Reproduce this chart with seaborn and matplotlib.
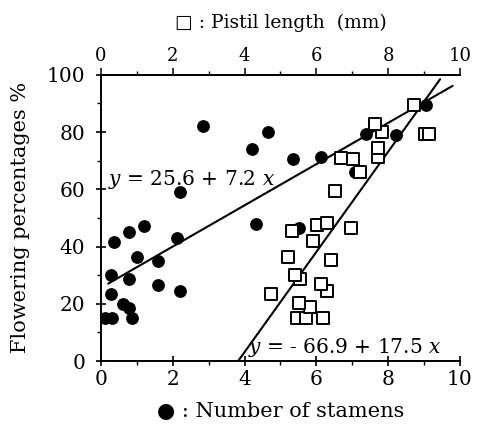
import matplotlib
matplotlib.use("Agg")
import matplotlib.pyplot as plt
import seaborn as sns
import numpy as np
import pandas as pd

# filled circles: number of stamens vs flowering %
stamen_x = [0.11, 0.30, 0.86, 0.79, 0.60, 0.27, 2.19, 1.60, 0.79, 0.27,
            1.60, 1.00, 0.35, 2.12, 0.79, 1.19, 4.33, 2.19, 5.34, 6.13,
            4.22, 4.64, 2.85, 7.39, 8.22, 9.05, 5.53, 7.09]
stamen_y = [15.1, 15.1, 15.1, 18.4, 19.9, 23.3, 24.6, 26.6, 28.7, 30.1,
            35.1, 36.5, 41.7, 42.9, 45.2, 47.3, 47.9, 59.2, 70.6, 71.2,
            74.0, 80.0, 82.3, 79.5, 79.1, 89.3, 46.5, 66.0]

# open squares: pistil length (mm) vs flowering %
pistil_x = [4.75, 5.46, 5.71, 6.18, 5.82, 5.53, 6.30, 6.12, 5.54, 5.40,
            5.21, 6.40, 5.90, 5.33, 6.02, 6.31, 6.98, 6.52, 7.21, 6.69,
            7.01, 7.71, 7.71, 7.82, 7.63, 8.71, 9.04, 9.14]
pistil_y = [23.3, 15.2, 15.2, 15.2, 18.7, 20.2, 24.5, 27.0, 28.8, 30.2,
            36.5, 35.2, 42.1, 45.3, 47.7, 48.1, 46.6, 59.5, 65.9, 71.1,
            70.6, 71.3, 74.4, 80.1, 82.7, 89.3, 79.4, 79.5]

# regression lines (intercept, slope, x range)
stamen_fit = (25.6, 7.2, 0.2, 9.8)
pistil_fit = (-66.9, 17.5, 3.82, 9.45)

sns.set_theme(style="ticks")
plt.rcParams["font.family"] = ["DejaVu Serif", "DejaVu Sans"]
plt.rcParams["mathtext.fontset"] = "dejavuserif"
plt.rcParams.update({"text.color": "black", "axes.labelcolor": "black",
                     "xtick.color": "black", "ytick.color": "black"})

fig = plt.figure(figsize=(4.81, 4.29), dpi=100)
ax = fig.add_axes([0.21, 0.1585, 0.746, 0.667])

df_st = pd.DataFrame({"x": stamen_x, "y": stamen_y})
df_pi = pd.DataFrame({"x": pistil_x, "y": pistil_y})

for b, m, x0, x1 in [stamen_fit, pistil_fit]:
    xs = np.array([x0, x1])
    ax.plot(xs, b + m * xs, color="black", lw=1.5, zorder=1)

sns.scatterplot(data=df_st, x="x", y="y", ax=ax, marker="o", s=85,
                color="black", edgecolor="black", linewidth=0, zorder=2)
sns.scatterplot(data=df_pi, x="x", y="y", ax=ax, marker="s", s=66,
                facecolor="white", edgecolor="black", linewidth=1.4, zorder=3)

ax.set_xlim(0, 10)
ax.set_ylim(0, 100)
ax.set_xticks(range(0, 11, 2))
ax.set_xticks(range(0, 11), minor=True)
ax.set_yticks(range(0, 101, 20))
ax.set_yticks(range(0, 101, 10), minor=True)
ax.tick_params(axis="both", which="major", direction="inout", length=7,
               width=1.2, labelsize=14.5, colors="black")
ax.tick_params(axis="y", which="major", pad=8)
ax.tick_params(axis="x", which="major", pad=3)
ax.tick_params(axis="both", which="minor", direction="out", length=3, width=1)
ax.spines["right"].set_visible(False)
for s in ["left", "bottom", "top"]:
    ax.spines[s].set_linewidth(1.4)
    ax.spines[s].set_color("black")

top = ax.secondary_xaxis("top")
top.set_xticks(range(0, 11, 2))
top.set_xticks(range(0, 11), minor=True)
top.tick_params(which="major", direction="out", length=5, width=1.1,
                labelsize=13, pad=2, colors="black")
top.tick_params(which="minor", direction="out", length=3, width=1)
top.spines["top"].set_linewidth(1.4)
top.set_xlabel("\u25a1 : Pistil length  (mm)", fontsize=13.5, labelpad=14)

ax.set_xlabel("\u25cf : Number of stamens", fontsize=15, labelpad=9)
ax.set_ylabel("Flowering percentages %", fontsize=15, labelpad=12)

ax.text(0.2, 63.5, "$y$ = 25.6 + 7.2 $x$", fontsize=14.5, va="center", ha="left")
ax.text(4.1, 4.8, "$y$ = - 66.9 + 17.5 $x$", fontsize=14.5, va="center", ha="left")

plt.savefig("out.png", dpi=100)
